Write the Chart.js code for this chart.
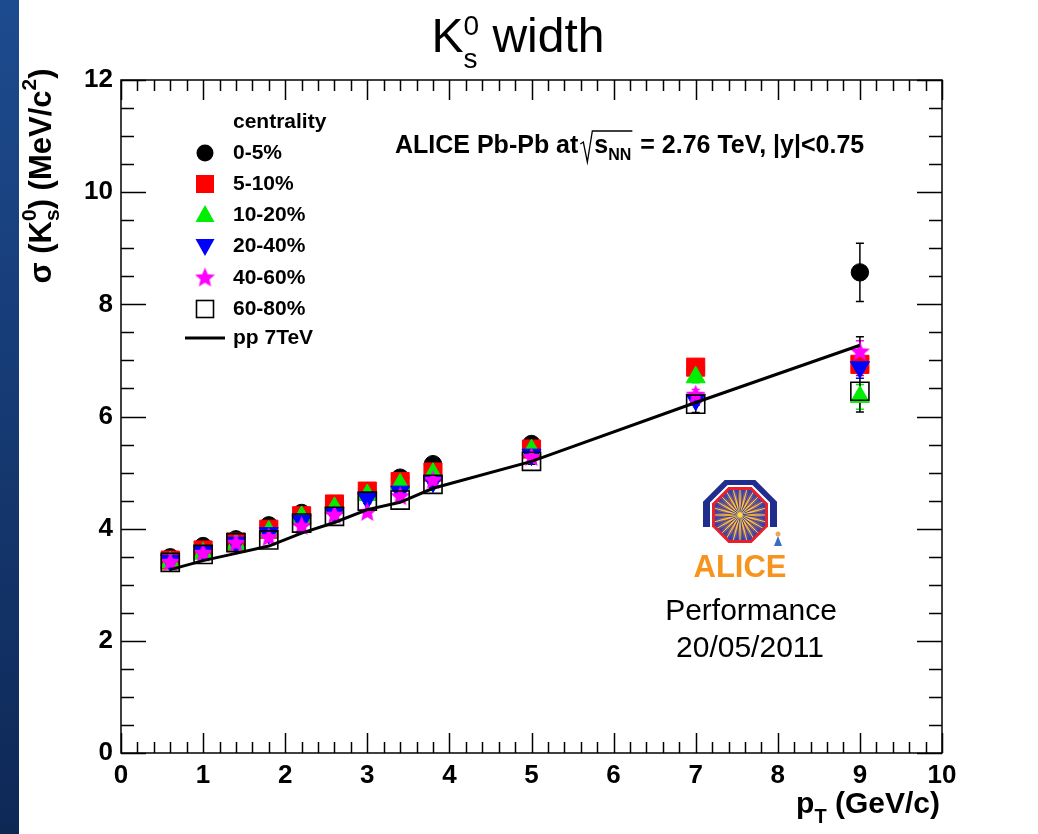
<!DOCTYPE html>
<html>
<head>
<meta charset="utf-8">
<script src="https://cdn.jsdelivr.net/npm/chart.js@4.4.1/dist/chart.umd.min.js"></script>
<style>
  html, body { margin: 0; padding: 0; background: #fff; }
  #wrap { position: relative; width: 1038px; height: 834px; overflow: hidden; background: #fff; }
  #strip { position: absolute; left: 0; top: 0; width: 19px; height: 834px; background: linear-gradient(#1d4b8f, #0e2856); }
  canvas { position: absolute; left: 0; top: 0; }
</style>
</head>
<body>
<div id="wrap"><div id="strip"></div><canvas id="c" width="1038" height="834"></canvas></div>
<script>
const FONT = '"Liberation Sans", Arial, Helvetica, sans-serif';

// pT bin centres (GeV/c)
const ptBins = [0.6, 1.0, 1.4, 1.8, 2.2, 2.6, 3.0, 3.4, 3.8, 5.0, 7.0, 9.0];

// K0s mass peak width (MeV/c^2) per centrality class
const sigma0_5   = [3.49, 3.69, 3.81, 4.06, 4.28, 4.43, 4.67, 4.91, 5.15, 5.51, 6.85, 8.57];
const sigma5_10  = [3.44, 3.62, 3.76, 3.99, 4.23, 4.44, 4.67, 4.84, 5.01, 5.42, 6.88, 6.93];
const sigma10_20 = [3.40, 3.56, 3.72, 3.95, 4.21, 4.37, 4.60, 4.79, 4.98, 5.40, 6.70, 6.35];
const sigma20_40 = [3.43, 3.60, 3.75, 3.92, 4.14, 4.28, 4.54, 4.66, 4.84, 5.32, 6.30, 6.88];
const sigma40_60 = [3.40, 3.56, 3.74, 3.84, 4.04, 4.24, 4.29, 4.57, 4.86, 5.27, 6.38, 7.15];
const sigma60_80 = [3.40, 3.54, 3.75, 3.80, 4.10, 4.22, 4.49, 4.51, 4.79, 5.20, 6.22, 6.45];
const sigmaPP    = [3.27, 3.43, 3.56, 3.69, 3.92, 4.11, 4.34, 4.47, 4.72, 5.20, 6.25, 7.27];

// statistical errors
const err0_5   = [0.03, 0.03, 0.03, 0.03, 0.03, 0.03, 0.04, 0.04, 0.05, 0.05, 0.10, 0.52];
const err5_10  = [0.03, 0.03, 0.03, 0.03, 0.03, 0.03, 0.04, 0.04, 0.05, 0.05, 0.10, 0.20];
const err10_20 = [0.03, 0.03, 0.03, 0.03, 0.03, 0.03, 0.04, 0.04, 0.05, 0.05, 0.10, 0.22];
const err20_40 = [0.03, 0.03, 0.03, 0.03, 0.03, 0.03, 0.04, 0.04, 0.05, 0.05, 0.10, 0.20];
const err40_60 = [0.03, 0.03, 0.03, 0.03, 0.03, 0.03, 0.04, 0.04, 0.05, 0.05, 0.10, 0.20];
const err60_80 = [0.03, 0.03, 0.03, 0.03, 0.03, 0.03, 0.04, 0.04, 0.05, 0.05, 0.15, 0.37];
const errPP    = [0, 0, 0, 0, 0, 0, 0, 0, 0, 0, 0, 0.15];

const centLabels = ['0-5%', '5-10%', '10-20%', '20-40%', '40-60%', '60-80%'];

function pts(vals, errs) {
  return ptBins.map((x, i) => ({ x: x, y: vals[i], err: errs[i] }));
}

function makeStar(color, r) {
  const c = document.createElement('canvas');
  c.width = c.height = Math.ceil(r * 2 + 2);
  const g = c.getContext('2d');
  const m = c.width / 2;
  g.beginPath();
  for (let k = 0; k < 10; k++) {
    const rr = k % 2 === 0 ? r : r * 0.45;
    const a = -Math.PI / 2 + k * Math.PI / 5;
    g.lineTo(m + rr * Math.cos(a), m + rr * Math.sin(a));
  }
  g.closePath();
  g.fillStyle = color;
  g.fill();
  return c;
}
const starImg = makeStar('#ff00ff', 10.5);

function markerSet(label, vals, errs, color, style, radius, order, extra) {
  return Object.assign({
    label: label,
    data: pts(vals, errs),
    showLine: false,
    pointStyle: style,
    pointRadius: radius,
    pointHoverRadius: radius,
    backgroundColor: color,
    borderColor: color,
    pointBorderWidth: 1,
    order: order,
  }, extra || {});
}

const datasets = [
  markerSet(centLabels[0], sigma0_5, err0_5, '#000000', 'circle', 8.7, 6),
  markerSet(centLabels[1], sigma5_10, err5_10, '#ff0000', 'rect', 12.8, 5),
  markerSet(centLabels[2], sigma10_20, err10_20, '#00ee00', 'triangle', 11, 4),
  markerSet(centLabels[3], sigma20_40, err20_40, '#0000ff', 'triangle', 11, 3, { pointRotation: 180 }),
  markerSet(centLabels[4], sigma40_60, err40_60, '#ff00ff', starImg, 10, 2),
  markerSet(centLabels[5], sigma60_80, err60_80, '#000000', 'rect', 12.8, 1,
    { backgroundColor: 'rgba(0,0,0,0)', pointBorderWidth: 1.6 }),
  {
    label: 'pp 7TeV',
    data: pts(sigmaPP, errPP),
    showLine: true,
    borderColor: '#000000',
    borderWidth: 3,
    pointRadius: 0,
    tension: 0,
    order: 0,
  },
];

// vertical error bars, drawn through the scales
const errorBars = {
  id: 'errorBars',
  beforeDatasetsDraw(chart) {
    const { ctx, scales: { x, y } } = chart;
    ctx.save();
    ctx.lineWidth = 1.5;
    chart.data.datasets.forEach(ds => {
      ctx.strokeStyle = ds.borderColor;
      ds.data.forEach(p => {
        if (!p.err) return;
        const px = x.getPixelForValue(p.x);
        const y1 = y.getPixelForValue(p.y - p.err);
        const y2 = y.getPixelForValue(p.y + p.err);
        ctx.beginPath();
        ctx.moveTo(px, y1); ctx.lineTo(px, y2);
        ctx.moveTo(px - 4, y1); ctx.lineTo(px + 4, y1);
        ctx.moveTo(px - 4, y2); ctx.lineTo(px + 4, y2);
        ctx.stroke();
      });
    });
    ctx.restore();
  }
};

// ROOT style frame with inward ticks on all four sides
const frameTicks = {
  id: 'frameTicks',
  afterDraw(chart) {
    const { ctx, chartArea: a, scales: { x, y } } = chart;
    ctx.save();
    ctx.strokeStyle = '#000';
    ctx.lineWidth = 1.5;
    ctx.strokeRect(a.left, a.top, a.right - a.left, a.bottom - a.top);
    ctx.beginPath();
    for (let i = 0; i <= 50; i++) {
      const px = Math.round(x.getPixelForValue(i * 0.2)) + 0.5;
      const len = i % 5 === 0 ? 20 : 11;
      ctx.moveTo(px, a.bottom); ctx.lineTo(px, a.bottom - len);
      ctx.moveTo(px, a.top); ctx.lineTo(px, a.top + len);
    }
    for (let i = 0; i <= 24; i++) {
      const py = Math.round(y.getPixelForValue(i * 0.5)) + 0.5;
      const len = i % 4 === 0 ? 25 : 13;
      ctx.moveTo(a.left, py); ctx.lineTo(a.left + len, py);
      ctx.moveTo(a.right, py); ctx.lineTo(a.right - len, py);
    }
    ctx.stroke();
    ctx.restore();
  }
};

function layoutRich(ctx, parts) {
  let cur = 0, pending = 0;
  const pos = [];
  parts.forEach(p => {
    ctx.font = (p.bold ? 'bold ' : '') + p.size + 'px ' + FONT;
    const w = ctx.measureText(p.t).width;
    pos.push(cur);
    if (p.stack) pending = Math.max(pending, w);
    else { cur += Math.max(pending, w); pending = 0; }
  });
  return { pos, width: cur };
}

function drawRich(ctx, parts, x, y, align) {
  const { pos, width } = layoutRich(ctx, parts);
  let x0 = x;
  if (align === 'center') x0 = x - width / 2;
  if (align === 'right') x0 = x - width;
  ctx.textAlign = 'left';
  ctx.textBaseline = 'alphabetic';
  parts.forEach((p, i) => {
    ctx.font = (p.bold ? 'bold ' : '') + p.size + 'px ' + FONT;
    ctx.fillText(p.t, x0 + pos[i], y + (p.dy || 0));
  });
  return x0 + width;
}

function drawMarker(ctx, kind, x, y) {
  ctx.save();
  ctx.beginPath();
  if (kind === 'circle') {
    ctx.fillStyle = '#000';
    ctx.arc(x, y, 8.5, 0, Math.PI * 2);
    ctx.fill();
  } else if (kind === 'rect') {
    ctx.fillStyle = '#ff0000';
    ctx.fillRect(x - 9, y - 9, 18, 18);
  } else if (kind === 'tri') {
    ctx.fillStyle = '#00ee00';
    ctx.moveTo(x, y - 10); ctx.lineTo(x + 9.5, y + 7); ctx.lineTo(x - 9.5, y + 7);
    ctx.closePath(); ctx.fill();
  } else if (kind === 'triDown') {
    ctx.fillStyle = '#0000ff';
    ctx.moveTo(x, y + 10); ctx.lineTo(x + 9.5, y - 7); ctx.lineTo(x - 9.5, y - 7);
    ctx.closePath(); ctx.fill();
  } else if (kind === 'star') {
    ctx.drawImage(starImg, x - starImg.width / 2, y - starImg.height / 2);
  } else if (kind === 'open') {
    ctx.strokeStyle = '#000'; ctx.lineWidth = 1.6;
    ctx.strokeRect(x - 8.5, y - 8.5, 17, 17);
  }
  ctx.restore();
}

function octPath(ctx, cx, cy, apothem) {
  const r = apothem / Math.cos(Math.PI / 8);
  ctx.beginPath();
  for (let k = 0; k < 8; k++) {
    const a = Math.PI / 8 + k * Math.PI / 4;
    ctx.lineTo(cx + r * Math.cos(a), cy + r * Math.sin(a));
  }
  ctx.closePath();
}

function drawAliceLogo(ctx, cx, cy) {
  ctx.save();
  ctx.save();
  ctx.beginPath(); ctx.rect(cx - 50, cy - 50, 100, 62); ctx.clip();
  octPath(ctx, cx, cy + 2, 37); ctx.fillStyle = '#1f2d8f'; ctx.fill();
  ctx.restore();
  octPath(ctx, cx, cy, 30); ctx.fillStyle = '#fff'; ctx.fill();
  octPath(ctx, cx, cy, 28); ctx.fillStyle = '#e8202a'; ctx.fill();
  octPath(ctx, cx, cy, 25);
  const g = ctx.createRadialGradient(cx, cy, 0, cx, cy, 26);
  g.addColorStop(0, '#ffe14a'); g.addColorStop(0.35, '#f79a2a'); g.addColorStop(1, '#3a3fb0');
  ctx.fillStyle = g; ctx.fill();
  ctx.clip();
  ctx.lineWidth = 1;
  for (let k = 0; k < 48; k++) {
    const a = k * Math.PI / 24;
    ctx.strokeStyle = k % 2 ? '#2f39b8' : '#ffd23a';
    ctx.beginPath();
    ctx.moveTo(cx + 3 * Math.cos(a), cy + 3 * Math.sin(a));
    ctx.lineTo(cx + 30 * Math.cos(a), cy + 30 * Math.sin(a));
    ctx.stroke();
  }
  ctx.restore();
  // little Alice figure
  ctx.save();
  ctx.fillStyle = '#f2a35a';
  ctx.beginPath(); ctx.arc(cx + 38, cy + 19, 2.5, 0, Math.PI * 2); ctx.fill();
  ctx.fillStyle = '#3b6cc0';
  ctx.beginPath(); ctx.moveTo(cx + 38, cy + 21); ctx.lineTo(cx + 42, cy + 31); ctx.lineTo(cx + 34, cy + 31); ctx.closePath(); ctx.fill();
  ctx.restore();
  ctx.save();
  ctx.fillStyle = '#f7941d';
  ctx.font = 'bold 31px ' + FONT;
  ctx.textAlign = 'center';
  ctx.fillText('ALICE', cx, cy + 53);
  ctx.restore();
}

const annotations = {
  id: 'annotations',
  afterDraw(chart) {
    const ctx = chart.ctx;
    ctx.save();
    ctx.fillStyle = '#000';

    // title
    drawRich(ctx, [
      { t: 'K', size: 48 },
      { t: '0', size: 28, dy: -17, stack: true },
      { t: 's', size: 28, dy: 16 },
      { t: ' width', size: 48 },
    ], 518, 52, 'center');

    // y axis title
    ctx.save();
    ctx.translate(51, 176);
    ctx.rotate(-Math.PI / 2);
    drawRich(ctx, [
      { t: 'σ (K', size: 31, bold: true },
      { t: '0', size: 21, bold: true, dy: -15, stack: true },
      { t: 's', size: 21, bold: true, dy: 8 },
      { t: ') (MeV/c', size: 31, bold: true },
      { t: '2', size: 21, bold: true, dy: -15 },
      { t: ')', size: 31, bold: true },
    ], 0, 0, 'center');
    ctx.restore();

    // x axis title
    drawRich(ctx, [
      { t: 'p', size: 30, bold: true },
      { t: 'T', size: 20, bold: true, dy: 10 },
      { t: ' (GeV/c)', size: 30, bold: true },
    ], 940, 813, 'right');

    // system label with sqrt(s_NN)
    let xx = drawRich(ctx, [{ t: 'ALICE Pb-Pb at', size: 25, bold: true }], 395, 153, 'left');
    const sx = xx + 2;
    const sEnd = drawRich(ctx, [
      { t: 's', size: 25, bold: true },
      { t: 'NN', size: 16, bold: true, dy: 7 },
    ], sx + 14, 153, 'left');
    ctx.save();
    ctx.strokeStyle = '#000'; ctx.lineWidth = 1.3;
    ctx.beginPath();
    ctx.moveTo(sx, 144); ctx.lineTo(sx + 3, 142); ctx.lineTo(sx + 7, 162);
    ctx.lineTo(sx + 12, 131); ctx.lineTo(sEnd + 1, 131);
    ctx.stroke();
    ctx.restore();
    drawRich(ctx, [{ t: ' = 2.76 TeV, |y|<0.75', size: 25, bold: true }], sEnd + 2, 153, 'left');

    // legend
    ctx.font = 'bold 21px ' + FONT;
    ctx.textAlign = 'left';
    ctx.textBaseline = 'middle';
    ctx.fillText('centrality', 233, 122);
    const kinds = ['circle', 'rect', 'tri', 'triDown', 'star', 'open'];
    const rowY = [153, 184, 215, 246, 278, 309];
    kinds.forEach((k, i) => {
      drawMarker(ctx, k, 205, rowY[i]);
      ctx.fillStyle = '#000';
      ctx.fillText(centLabels[i], 233, rowY[i]);
    });
    ctx.strokeStyle = '#000'; ctx.lineWidth = 3;
    ctx.beginPath(); ctx.moveTo(185, 338); ctx.lineTo(225, 338); ctx.stroke();
    ctx.fillText('pp 7TeV', 233, 338);

    // logo and performance label
    drawAliceLogo(ctx, 740, 515);
    ctx.fillStyle = '#000';
    ctx.textBaseline = 'alphabetic';
    ctx.textAlign = 'center';
    ctx.font = '30px ' + FONT;
    ctx.fillText('Performance', 751, 620);
    ctx.fillText('20/05/2011', 750, 657);
    ctx.restore();
  }
};

new Chart(document.getElementById('c'), {
  type: 'scatter',
  data: { datasets: datasets },
  options: {
    responsive: false,
    animation: false,
    layout: { padding: { top: 80, right: 96, left: 0, bottom: 0 } },
    plugins: { legend: { display: false }, tooltip: { enabled: false }, title: { display: false } },
    scales: {
      x: {
        type: 'linear', min: 0, max: 10,
        ticks: { stepSize: 1, color: '#000', padding: 7, maxRotation: 0, autoSkip: false,
                 font: { family: FONT, size: 26, weight: 'bold' } },
        grid: { display: false, drawTicks: false },
        border: { display: false },
        afterFit(s) { s.height = 81; },
      },
      y: {
        min: 0, max: 12,
        ticks: { stepSize: 2, color: '#000', padding: 8,
                 font: { family: FONT, size: 26, weight: 'bold' } },
        grid: { display: false, drawTicks: false },
        border: { display: false },
        afterFit(s) { s.width = 121; },
      },
    },
  },
  plugins: [errorBars, frameTicks, annotations],
});
</script>
</body>
</html>
